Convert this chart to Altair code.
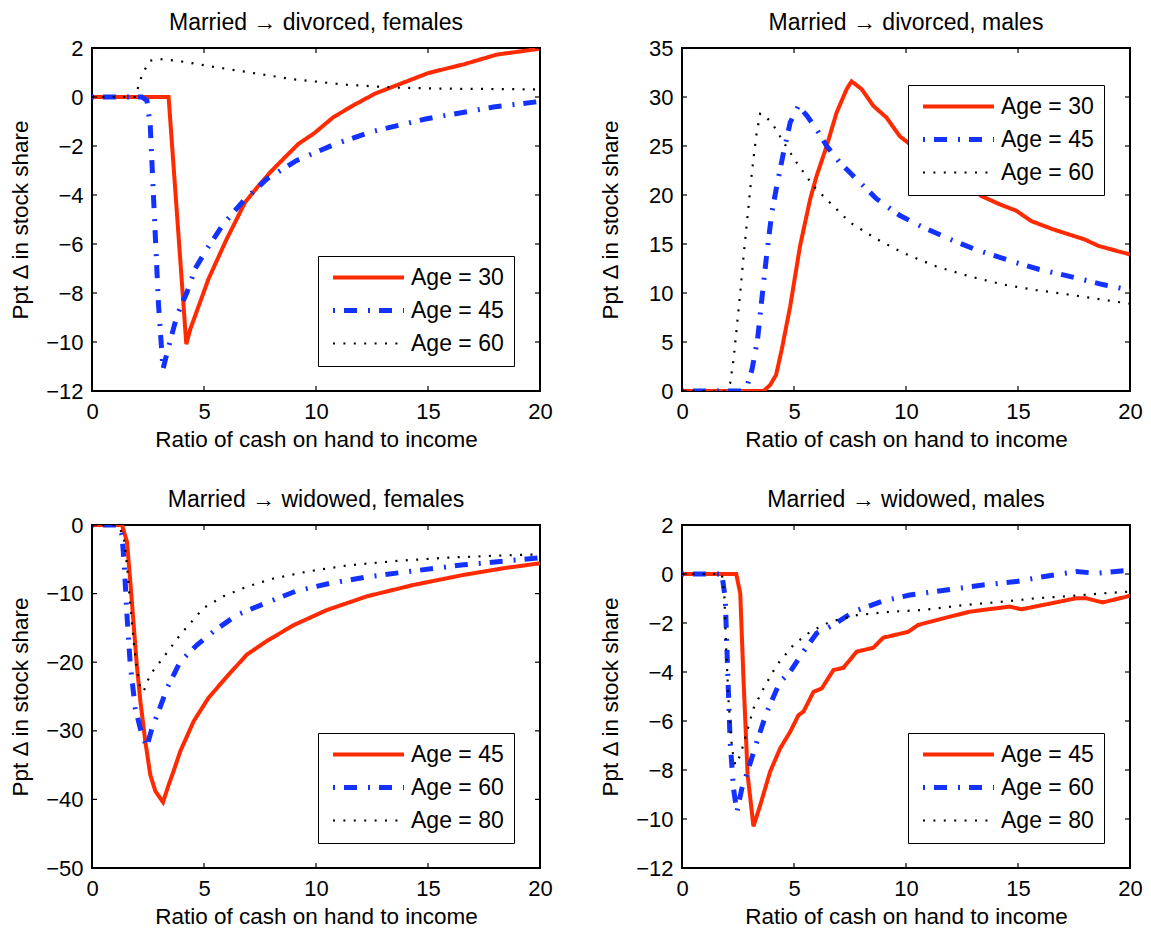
import altair as alt
import pandas as pd

FONT = "Liberation Sans"
RED = "#FF2A00"
BLUE = "#1432FF"
BLACK = "#000000"

X_TICKS = [0, 5, 10, 15, 20]

# ---------- Panel 1: Married -> divorced, females ----------
P1_LABELS = ["Age = 30", "Age = 45", "Age = 60"]
P1_A30_X = [0, 3.42, 4.21, 4.39, 5.2, 5.98, 6.84, 7.5, 7.96, 8.55, 9.22, 9.89, 10.78, 11.67, 12.64, 13.6, 15.02, 16.58, 18.07, 20]
P1_A30_Y = [0, 0, -10.09, -9.47, -7.43, -5.86, -4.29, -3.55, -3.07, -2.52, -1.91, -1.5, -0.82, -0.34, 0.14, 0.48, 0.98, 1.33, 1.73, 1.97]
P1_A45_X = [0, 2.23, 2.45, 2.6, 2.75, 2.97, 3.17, 3.42, 3.79, 4.24, 4.61, 5.13, 5.87, 6.77, 7.81, 9.14, 10.78, 12.42, 14.94, 17.92, 20]
P1_A45_Y = [0, 0, -0.14, -1.16, -4.16, -8.5, -11.1, -10.2, -8.93, -7.97, -7.0, -6.2, -5.18, -4.23, -3.34, -2.59, -1.95, -1.43, -0.89, -0.41, -0.18]
P1_A60_X = [0, 1.95, 2.05, 2.2, 2.37, 2.59, 3.04, 3.94, 5.43, 6.91, 9.0, 11.38, 13.6, 15.84, 20]
P1_A60_Y = [0, 0, 0.37, 0.8, 1.14, 1.48, 1.55, 1.46, 1.23, 1.02, 0.72, 0.5, 0.38, 0.34, 0.31]
P1_Y_TICKS = [-12, -10, -8, -6, -4, -2, 0, 2]

# ---------- Panel 2: Married -> divorced, males ----------
P2_LABELS = ["Age = 30", "Age = 45", "Age = 60"]
P2_A30_X = [0, 3.64, 3.93, 4.2, 4.45, 4.83, 5.27, 5.72, 6.01, 6.46, 6.9, 7.35, 7.57, 8.02, 8.54, 9.13, 9.72, 10.5, 11.5, 12.3, 13.0, 13.36, 14.18, 14.92, 15.59, 16.56, 17.97, 18.6, 20]
P2_A30_Y = [0, 0, 0.6, 1.64, 4.2, 8.64, 14.8, 19.56, 21.95, 25.0, 28.4, 30.8, 31.6, 30.8, 29.1, 27.9, 26.0, 24.6, 22.8, 21.6, 20.6, 19.9, 19.05, 18.4, 17.34, 16.5, 15.47, 14.8, 13.93]
P2_A45_X = [0, 2.67, 2.9, 3.12, 3.37, 3.56, 3.79, 4.01, 4.23, 4.53, 4.83, 5.2, 5.57, 6.01, 6.46, 7.05, 7.8, 8.69, 9.73, 10.76, 11.95, 13.14, 14.77, 15.96, 17.3, 18.78, 20]
P2_A45_Y = [0, 0, 0.44, 2.15, 5.2, 9.3, 14.1, 18.2, 20.9, 24.3, 27.4, 29.1, 28.1, 26.7, 25.0, 23.3, 21.6, 19.6, 17.9, 16.7, 15.5, 14.4, 13.2, 12.4, 11.7, 10.86, 10.3]
P2_A60_X = [0, 1.93, 2.15, 2.3, 2.45, 2.6, 2.75, 2.93, 3.12, 3.31, 3.49, 3.71, 4.08, 4.53, 5.12, 5.87, 6.61, 7.5, 8.69, 9.87, 11.36, 12.84, 14.33, 15.81, 17.3, 18.78, 20]
P2_A60_Y = [0, 0, 0.8, 3.2, 6.6, 10.0, 13.8, 17.9, 22.3, 26.0, 28.3, 28.1, 27.1, 25.4, 23.3, 20.9, 19.2, 17.2, 15.5, 14.1, 12.7, 11.7, 10.86, 10.3, 9.83, 9.32, 8.9]
P2_Y_TICKS = [0, 5, 10, 15, 20, 25, 30, 35]

# ---------- Panel 3: Married -> widowed, females ----------
P3_LABELS = ["Age = 45", "Age = 60", "Age = 80"]
P3_A45_X = [0, 1.34, 1.56, 1.71, 1.86, 2.0, 2.16, 2.38, 2.6, 2.83, 3.17, 3.42, 3.64, 3.94, 4.54, 5.2, 6.02, 6.91, 7.81, 9.0, 10.48, 12.27, 14.35, 16.58, 18.36, 20]
P3_A45_Y = [0, 0, -2.43, -8.25, -14.56, -20.4, -25.7, -31.55, -36.4, -38.8, -40.4, -37.9, -35.9, -33.0, -28.6, -25.2, -22.1, -18.9, -16.9, -14.6, -12.4, -10.4, -8.74, -7.28, -6.31, -5.58]
P3_A60_X = [0, 1.19, 1.34, 1.44, 1.56, 1.71, 1.93, 2.23, 2.45, 2.68, 2.97, 3.35, 3.94, 4.68, 5.43, 6.47, 7.81, 9.14, 10.63, 12.42, 14.35, 16.58, 18.51, 20]
P3_A60_Y = [0, 0, -1.46, -5.8, -13.1, -20.4, -26.7, -30.6, -32.3, -29.6, -27.2, -23.8, -19.9, -17.5, -15.5, -13.1, -11.3, -9.6, -8.5, -7.5, -6.7, -5.8, -5.24, -4.76]
P3_A80_X = [0, 1.12, 1.41, 1.56, 1.71, 1.86, 2.0, 2.16, 2.3, 2.6, 3.05, 3.94, 4.98, 5.87, 6.91, 8.1, 9.59, 11.38, 13.6, 15.84, 18.07, 20]
P3_A80_Y = [0, 0, -1.46, -5.8, -11.65, -17.0, -20.9, -23.8, -24.3, -21.8, -19.9, -16.0, -12.1, -10.4, -9.0, -7.8, -6.8, -5.9, -5.24, -4.76, -4.47, -4.27]
P3_Y_TICKS = [-50, -40, -30, -20, -10, 0]

# ---------- Panel 4: Married -> widowed, males ----------
P4_LABELS = ["Age = 45", "Age = 60", "Age = 80"]
P4_A45_X = [0, 2.42, 2.6, 2.75, 2.93, 3.19, 3.49, 3.93, 4.38, 4.83, 5.2, 5.42, 5.87, 6.24, 6.76, 7.2, 7.8, 8.54, 8.98, 10.1, 10.54, 11.66, 12.84, 14.62, 15.15, 16.26, 17.6, 18.04, 18.78, 20]
P4_A45_Y = [0, 0, -0.79, -4.4, -8.2, -10.3, -9.44, -8.08, -7.12, -6.44, -5.76, -5.62, -4.81, -4.67, -3.92, -3.83, -3.17, -3.01, -2.6, -2.36, -2.08, -1.81, -1.54, -1.33, -1.44, -1.24, -0.99, -0.99, -1.16, -0.89]
P4_A60_X = [0, 1.78, 1.93, 2.03, 2.15, 2.3, 2.45, 2.67, 2.97, 3.34, 3.79, 4.38, 4.83, 5.42, 6.01, 6.76, 7.65, 8.98, 10.17, 11.8, 13.44, 14.92, 16.11, 17.6, 18.49, 20]
P4_A60_Y = [0, 0, -1.0, -3.72, -6.85, -8.76, -9.71, -8.76, -7.94, -6.85, -5.62, -4.4, -3.99, -3.17, -2.42, -2.08, -1.54, -1.1, -0.86, -0.65, -0.45, -0.31, -0.11, 0.1, 0.03, 0.16]
P4_A80_X = [0, 1.78, 1.89, 1.97, 2.08, 2.23, 2.38, 2.6, 2.9, 3.19, 3.64, 4.23, 4.97, 5.72, 6.61, 7.8, 9.28, 10.76, 12.55, 14.33, 15.81, 17.3, 18.78, 20]
P4_A80_Y = [0, 0, -0.86, -3.04, -5.2, -7.12, -7.8, -7.4, -6.44, -5.49, -4.67, -3.72, -2.9, -2.36, -1.95, -1.68, -1.54, -1.47, -1.27, -1.13, -0.99, -0.9, -0.79, -0.72]
P4_Y_TICKS = [-12, -10, -8, -6, -4, -2, 0, 2]

W, H = 448, 343
TICK_LEN = 5
COLORS = [RED, BLUE, BLACK]
DASHES = [[1, 0], [2, 9, 13, 11], [2, 8.4]]
WIDTHS = [4, 5, 2.2]
SYMBOL_LEN = 71


def panel(title, labels, series, ydomain, yticks, legend_xy):
    frames = []
    for lab, (xs, ys), w in zip(labels, series, WIDTHS):
        frames.append(pd.DataFrame({"x": xs, "y": ys, "series": lab, "sw": w}))
    df = pd.concat(frames, ignore_index=True)

    width_expr = " : ".join(
        [f"datum.value === '{lab}' ? {w}" for lab, w in zip(labels, WIDTHS)]
    ) + " : 2"
    leg = alt.Legend(
        title=None,
        orient="none",
        legendX=legend_xy[0],
        legendY=legend_xy[1],
        fillColor="white",
        strokeColor="black",
        padding=10,
        symbolType="stroke",
        symbolSize=SYMBOL_LEN * SYMBOL_LEN,
        symbolStrokeWidth=alt.ExprRef(expr=width_expr),
        symbolOffset=29,
        labelFontSize=23,
        labelFont=FONT,
        labelColor="black",
        labelOffset=31,
        rowPadding=9,
    )
    xscale = alt.Scale(domain=[0, 20], nice=False, zero=False)
    yscale = alt.Scale(domain=ydomain, nice=False, zero=False)
    xaxis = alt.Axis(values=X_TICKS, title="Ratio of cash on hand to income")
    yaxis = alt.Axis(values=yticks, title="Ppt Δ in stock share")

    lines = alt.Chart(df).mark_line(clip=True).encode(
        x=alt.X("x:Q", scale=xscale, axis=xaxis),
        y=alt.Y("y:Q", scale=yscale, axis=yaxis),
        color=alt.Color("series:N", scale=alt.Scale(domain=labels, range=COLORS), legend=leg),
        strokeDash=alt.StrokeDash("series:N", scale=alt.Scale(domain=labels, range=DASHES), legend=leg),
        strokeWidth=alt.StrokeWidth("sw:Q", scale=None, legend=None),
    )
    xt = pd.DataFrame({"t": X_TICKS})
    yt = pd.DataFrame({"t": yticks})
    tb = alt.Chart(xt).mark_rule(color="black", strokeWidth=1.2).encode(
        x=alt.X("t:Q", scale=xscale, axis=xaxis), y=alt.value(H), y2=alt.value(H - TICK_LEN))
    tt = alt.Chart(xt).mark_rule(color="black", strokeWidth=1.2).encode(
        x=alt.X("t:Q", scale=xscale, axis=xaxis), y=alt.value(0), y2=alt.value(TICK_LEN))
    tl = alt.Chart(yt).mark_rule(color="black", strokeWidth=1.2).encode(
        y=alt.Y("t:Q", scale=yscale, axis=yaxis), x=alt.value(0), x2=alt.value(TICK_LEN))
    tr = alt.Chart(yt).mark_rule(color="black", strokeWidth=1.2).encode(
        y=alt.Y("t:Q", scale=yscale, axis=yaxis), x=alt.value(W - TICK_LEN), x2=alt.value(W))
    return alt.layer(lines, tb, tt, tl, tr).properties(
        width=W, height=H,
        title=alt.TitleParams(title, anchor="middle", frame="group", offset=2,
                              fontSize=23, font=FONT,
                              fontWeight="normal", color="black"),
    )


p1 = panel("Married \u2192 divorced, females", P1_LABELS,
           [(P1_A30_X, P1_A30_Y), (P1_A45_X, P1_A45_Y), (P1_A60_X, P1_A60_Y)],
           [-12, 2], P1_Y_TICKS, (226, 208))
p2 = panel("Married \u2192 divorced, males", P2_LABELS,
           [(P2_A30_X, P2_A30_Y), (P2_A45_X, P2_A45_Y), (P2_A60_X, P2_A60_Y)],
           [0, 35], P2_Y_TICKS, (226, 37))
p3 = panel("Married \u2192 widowed, females", P3_LABELS,
           [(P3_A45_X, P3_A45_Y), (P3_A60_X, P3_A60_Y), (P3_A80_X, P3_A80_Y)],
           [-50, 0], P3_Y_TICKS, (226, 208))
p4 = panel("Married \u2192 widowed, males", P4_LABELS,
           [(P4_A45_X, P4_A45_Y), (P4_A60_X, P4_A60_Y), (P4_A80_X, P4_A80_Y)],
           [-12, 2], P4_Y_TICKS, (226, 208))


def row(a, b):
    return alt.hconcat(a, b, spacing=44).resolve_scale(
        color="independent", strokeDash="independent"
    ).resolve_legend(color="independent", strokeDash="independent")


chart = alt.vconcat(
    row(p1, p2), row(p3, p4), spacing=36,
).resolve_scale(
    color="independent", strokeDash="independent"
).resolve_legend(
    color="independent", strokeDash="independent"
).properties(
    padding={"left": 8, "top": 11, "right": 5, "bottom": 5},
    background="white",
).configure_view(
    stroke="black", strokeWidth=2
).configure_axis(
    labelFont=FONT, titleFont=FONT, labelFontSize=22, titleFontSize=22.5,
    labelColor="black", titleColor="black", titleFontWeight="normal",
    ticks=False, tickSize=0, domain=False, grid=False,
    labelFlush=False, labelOverlap=False,
).configure_axisX(
    labelPadding=10, titleY=55, titleBaseline="alphabetic",
).configure_axisY(
    labelPadding=9, titleX=-65, titleBaseline="alphabetic",
)

chart.save("out.html", embed_options={"renderer": "svg", "actions": False})
